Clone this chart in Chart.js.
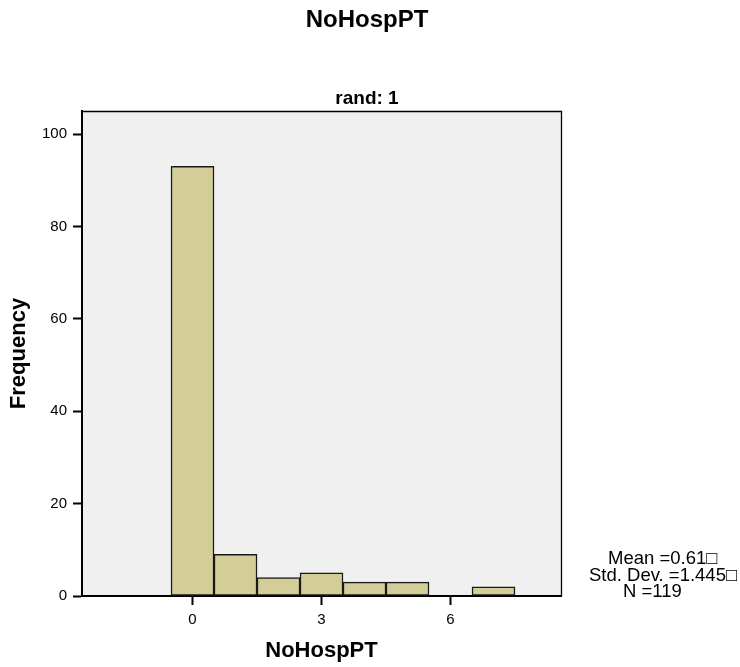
<!DOCTYPE html>
<html>
<head>
<meta charset="utf-8">
<script src="https://cdn.jsdelivr.net/npm/chart.js@4.4.0/dist/chart.umd.min.js"></script>
<style>
  body { margin: 0; background: #fff; }
  #wrap { width: 740px; height: 667px; }
</style>
</head>
<body>
<div id="wrap"><canvas id="histChart"></canvas></div>
<script>
// Histogram data: bin centres and their counts
const binValues = [0, 1, 2, 3, 4, 5, 7];
const binCounts = [93, 9, 4, 5, 3, 3, 2];
const xTicks = [0, 3, 6];
const yTicks = [0, 20, 40, 60, 80, 100];
const statLines = ['Mean =0.61\u25A1', 'Std. Dev. =1.445\u25A1', 'N =119'];

const FONT = 'Arial, "Liberation Sans", sans-serif';

// grey plot background, thin top/right frame and the stats text
const plotFrame = {
  id: 'plotFrame',
  beforeDraw(chart) {
    const a = chart.chartArea;
    const c = chart.ctx;
    c.save();
    c.fillStyle = '#f0f0f0';
    c.fillRect(a.left, a.top, a.right - a.left, a.bottom - a.top);
    c.restore();
  },
  afterDraw(chart) {
    const a = chart.chartArea;
    const c = chart.ctx;
    c.save();
    c.strokeStyle = '#000';
    c.lineWidth = 1.3;
    c.beginPath();
    c.moveTo(a.left, a.top + 0.5);
    c.lineTo(a.right + 0.5, a.top + 0.5);
    c.lineTo(a.right + 0.5, a.bottom);
    c.stroke();

    c.fillStyle = '#000';
    c.font = '18.5px ' + FONT;
    c.textAlign = 'left';
    c.textBaseline = 'alphabetic';
    const lineX = [608, 589, 623];
    statLines.forEach((t, i) => c.fillText(t, lineX[i], 564 + i * 16.5));
    c.restore();
  }
};

const ctx = document.getElementById('histChart').getContext('2d');
const histChart = new Chart(ctx, {
  type: 'bar',
  data: {
    datasets: [{
      data: binValues.map((v, i) => ({ x: v, y: binCounts[i] })),
      backgroundColor: '#d3ce98',
      borderColor: '#1a1a1a',
      borderWidth: 1.5,
      borderSkipped: false,
      barPercentage: 1,
      categoryPercentage: 1
    }]
  },
  options: {
    responsive: true,
    maintainAspectRatio: false,
    animation: false,
    layout: { padding: { left: 0, right: 6, top: 0, bottom: 0 } },
    plugins: {
      legend: { display: false },
      tooltip: { enabled: false },
      title: {
        display: true,
        text: 'NoHospPT',
        color: '#000',
        font: { family: FONT, size: 24, weight: 'bold' },
        padding: { top: 5.6, bottom: 53.2 }
      },
      subtitle: {
        display: true,
        text: 'rand: 1',
        color: '#000',
        font: { family: FONT, size: 19, weight: 'bold' },
        padding: { top: 0, bottom: 0.6 }
      }
    },
    scales: {
      x: {
        type: 'linear',
        min: -2.57,
        max: 8.57,
        offset: false,
        afterBuildTicks: axis => { axis.ticks = xTicks.map(v => ({ value: v })); },
        ticks: { color: '#000', font: { family: FONT, size: 15 }, padding: 6 },
        grid: { drawOnChartArea: false, offset: false, tickLength: 9, tickWidth: 2, tickColor: '#000' },
        border: { color: '#000', width: 2 },
        title: {
          display: true,
          text: 'NoHospPT',
          color: '#000',
          font: { family: FONT, size: 22, weight: 'bold' },
          padding: { top: 2.8, bottom: 2.8 }
        }
      },
      y: {
        min: 0,
        max: 105,
        afterBuildTicks: axis => { axis.ticks = yTicks.map(v => ({ value: v })); },
        ticks: { color: '#000', font: { family: FONT, size: 15 }, padding: 6 },
        grid: { drawOnChartArea: false, tickLength: 9, tickWidth: 2, tickColor: '#000' },
        border: { color: '#000', width: 2 },
        title: {
          display: true,
          text: 'Frequency',
          color: '#000',
          font: { family: FONT, size: 22, weight: 'bold' },
          padding: { top: 5.8, bottom: 3.8 }
        }
      },
      // empty axis that keeps room on the right for the stats text
      side: {
        position: 'right',
        display: true,
        ticks: { display: false },
        grid: { display: false },
        border: { display: false },
        afterFit: axis => { axis.width = 173; }
      }
    }
  },
  plugins: [plotFrame]
});
</script>
</body>
</html>
